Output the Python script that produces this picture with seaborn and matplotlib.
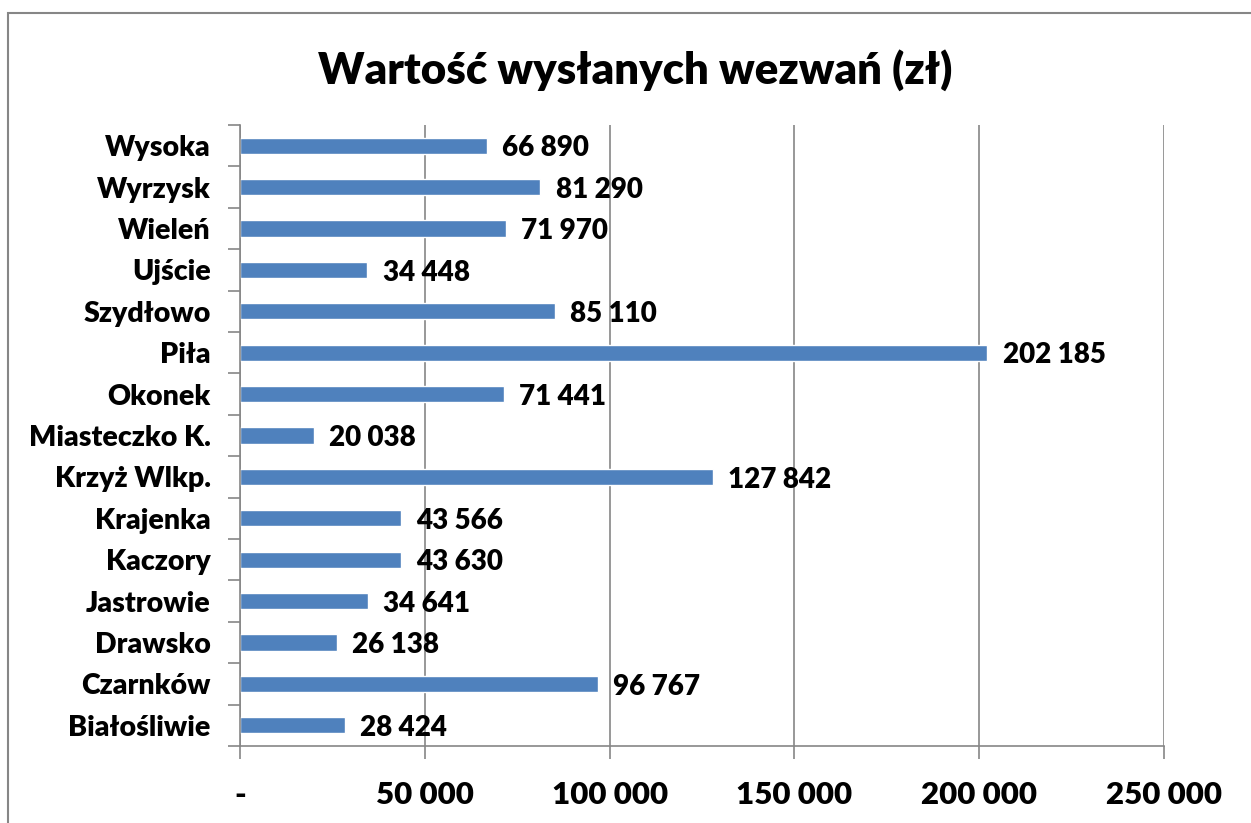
import numpy as np
import pandas as pd
import seaborn as sns
import matplotlib.pyplot as plt
from matplotlib.patches import Rectangle
from matplotlib.ticker import FuncFormatter

gminy = ["Wysoka", "Wyrzysk", "Wieleń", "Ujście", "Szydłowo", "Piła", "Okonek",
         "Miasteczko K.", "Krzyż Wlkp.", "Krajenka", "Kaczory", "Jastrowie",
         "Drawsko", "Czarnków", "Białośliwie"]
wartosci = [66890, 81290, 71970, 34448, 85110, 202185, 71441,
            20038, 127842, 43566, 43630, 34641, 26138, 96767, 28424]

df = pd.DataFrame({"gmina": gminy, "wartosc": wartosci})

sns.set_style("white")
plt.rcParams['font.family'] = ['Lato', 'DejaVu Sans']
plt.rcParams['text.color'] = "black"
plt.rcParams['xtick.labelcolor'] = "black"
plt.rcParams['ytick.labelcolor'] = "black"
waga = "heavy"

fig = plt.figure(figsize=(12.51, 8.23), dpi=100)
ax = fig.add_axes([0.1918, 0.0936, 0.7387, 0.7545])

sns.barplot(data=df, x="wartosc", y="gmina", order=gminy, color="#4F81BD",
            saturation=1, width=0.39, ax=ax, orient="h")


def fmt(v):
    return f"{int(v):,}".replace(",", " ")


etykiety = ax.bar_label(ax.containers[0], labels=[fmt(v) for v in wartosci], padding=11,
                        fontsize=20, fontweight=waga, color="black")
for t in etykiety:
    t.xyann = (11, -2)

ax.set_xlim(0, 250000)
ax.set_ylim(14.5, -0.5)
ax.set_xticks(np.arange(0, 250001, 50000))
ax.xaxis.set_major_formatter(FuncFormatter(lambda v, p: "-" if v == 0 else fmt(v)))
ax.set_yticks(np.arange(-0.5, 15, 1), minor=True)
ax.tick_params(axis="y", which="major", length=0, pad=21, labelsize=20.5,
               labelcolor="black")
ax.tick_params(axis="y", which="minor", length=9, width=1.2, color="#868686",
               direction="out", left=True)
ax.tick_params(axis="x", length=9, width=1.2, color="#868686", direction="out",
               pad=16, labelsize=22.5, bottom=True, labelcolor="black")
for lab in ax.get_xticklabels() + ax.get_yticklabels():
    lab.set_fontweight(waga)

ax.grid(axis="x", color="#868686", linewidth=1.2)
ax.set_axisbelow(True)
for s in ["top", "right"]:
    ax.spines[s].set_visible(False)
for s in ["left", "bottom"]:
    ax.spines[s].set_color("#868686")
    ax.spines[s].set_linewidth(1.2)
ax.set_xlabel("")
ax.set_ylabel("")

fig.text(0.508, 0.915, "Wartość wysłanych wezwań (zł)", ha="center", va="center",
         fontsize=31.5, fontweight=waga, color="black")

fig.patches.append(Rectangle((0.0064, -0.1), 1.1, 1.084, transform=fig.transFigure,
                             fill=False, edgecolor="#868686", linewidth=1.5))

fig.savefig("out.png", dpi=100)
